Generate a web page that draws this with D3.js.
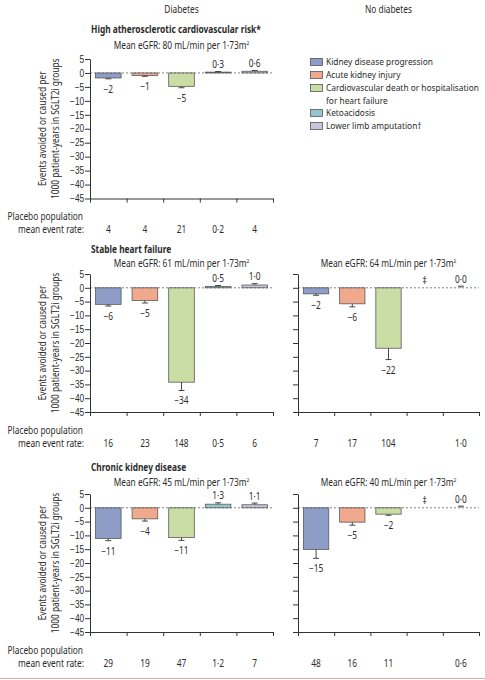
<!DOCTYPE html>
<html>
<head>
<meta charset="utf-8">
<script src="https://cdn.jsdelivr.net/npm/d3@7"></script>
<style>
  body { margin: 0; background: #fff; }
  svg { font-family: "Noto Sans", "Open Sans", sans-serif; }
  text { fill: #2b2b2b; }
</style>
</head>
<body>
<script>
// chart data
const groups = ['Diabetes', 'No diabetes'];
const outcomes = ['Kidney disease progression', 'Acute kidney injury',
  'Cardiovascular death or hospitalisation', 'Ketoacidosis', 'Lower limb amputation\u2020'];
const outcomeColours = ['#8e9cc8', '#f0a98c', '#c9dda5', '#93c6d1', '#c8c4dc'];
const yTicks = [5, 0, -5, -10, -15, -20, -25, -30, -35, -40, -45];

const populations = ['High atherosclerotic cardiovascular risk*', 'Stable heart failure', 'Chronic kidney disease'];
const meanEgfr = [['80'], ['61', '64'], ['45', '40']];

// bar value, end of the error bar, printed label, placebo rate
const ascvdDiabetesValues = [-1.8, -0.9, -4.8, 0.3, 0.6];
const ascvdDiabetesErrors = [-2.1, -1.2, -5.3, 0.5, 0.9];
const ascvdDiabetesLabels = ['\u22122', '\u22121', '\u22125', '0\u00b73', '0\u00b76'];
const ascvdDiabetesPlacebo = ['4', '4', '21', '0\u00b72', '4'];

const hfDiabetesValues = [-6.0, -4.6, -34.2, 0.5, 1.0];
const hfDiabetesErrors = [-6.6, -5.5, -37.2, 0.8, 1.5];
const hfDiabetesLabels = ['\u22126', '\u22125', '\u221234', '0\u00b75', '1\u00b70'];
const hfDiabetesPlacebo = ['16', '23', '148', '0\u00b75', '6'];

const hfNoDiabetesValues = [-2.2, -5.8, -21.9, null, 0.0];
const hfNoDiabetesErrors = [-2.7, -6.9, -26.0, null, 0.6];
const hfNoDiabetesLabels = ['\u22122', '\u22126', '\u221222', '\u2021', '0\u00b70'];
const hfNoDiabetesPlacebo = ['7', '17', '104', '', '1\u00b70'];

const ckdDiabetesValues = [-11.1, -4.0, -10.8, 1.3, 1.1];
const ckdDiabetesErrors = [-11.9, -4.8, -11.8, 1.8, 1.7];
const ckdDiabetesLabels = ['\u221211', '\u22124', '\u221211', '1\u00b73', '1\u00b71'];
const ckdDiabetesPlacebo = ['29', '19', '47', '1\u00b72', '7'];

const ckdNoDiabetesValues = [-15.1, -5.2, -2.3, null, 0.0];
const ckdNoDiabetesErrors = [-18.3, -6.3, -2.7, null, 0.6];
const ckdNoDiabetesLabels = ['\u221215', '\u22125', '\u22122', '\u2021', '0\u00b70'];
const ckdNoDiabetesPlacebo = ['48', '16', '11', '', '0\u00b76'];

// layout
const W = 485, H = 680;
const colX = [[90, 273], [298, 479]];
const rowTop = [59, 274, 494];
const rowBottom = [198.5, 412, 632];
const titleY = [33, 253, 471];
const egfrY = [49, 267, 485.5];

const panels = [
  { row: 0, col: 0, values: ascvdDiabetesValues, errors: ascvdDiabetesErrors, labels: ascvdDiabetesLabels, placebo: ascvdDiabetesPlacebo },
  { row: 1, col: 0, values: hfDiabetesValues, errors: hfDiabetesErrors, labels: hfDiabetesLabels, placebo: hfDiabetesPlacebo },
  { row: 1, col: 1, values: hfNoDiabetesValues, errors: hfNoDiabetesErrors, labels: hfNoDiabetesLabels, placebo: hfNoDiabetesPlacebo },
  { row: 2, col: 0, values: ckdDiabetesValues, errors: ckdDiabetesErrors, labels: ckdDiabetesLabels, placebo: ckdDiabetesPlacebo },
  { row: 2, col: 1, values: ckdNoDiabetesValues, errors: ckdNoDiabetesErrors, labels: ckdNoDiabetesLabels, placebo: ckdNoDiabetesPlacebo }
];

const svg = d3.select('body').append('svg')
  .attr('width', W)
  .attr('height', H);

// the figure uses a condensed face, so squeeze the installed sans to the
// same widths: "Kidney disease progression" ~107px, bold top title ~170px
function measure(str, weight) {
  const t = svg.append('text').attr('font-size', 10).attr('font-weight', weight).text(str);
  const w = t.node().getComputedTextLength();
  t.remove();
  return w;
}
const SX = 107 / measure(outcomes[0], 'normal');
const SXB = 170 / measure(populations[0], 'bold');

// text placed at (x, y), condensed horizontally
function txt(parent, x, y, str, o = {}) {
  const size = o.size || 10;
  const sx = (o.weight === 'bold' ? SXB : SX) * 10 / size;
  return parent.append('text')
    .attr('transform', `translate(${x},${y})${o.rotate ? ` rotate(${o.rotate})` : ''} scale(${sx},1)`)
    .attr('text-anchor', o.anchor || 'start')
    .attr('font-size', size)
    .attr('font-weight', o.weight || null)
    .text(str);
}

// column headers
groups.forEach((d, i) => {
  txt(svg, (colX[i][0] + colX[i][1]) / 2, 13, d, { anchor: 'middle' });
});

// population titles
populations.forEach((d, i) => {
  txt(svg, 91, titleY[i], d, { weight: 'bold' });
});

panels.forEach(drawPanel);

function drawPanel(p) {
  const [x0, x1] = colX[p.col];
  const top = rowTop[p.row], bottom = rowBottom[p.row];
  const g = svg.append('g');

  const y = d3.scaleLinear().domain([-45, 5]).range([bottom, top]);
  const x = d3.scaleBand().domain(d3.range(outcomes.length))
    .range([x0, x1]).paddingInner(0.3).paddingOuter(0.15);
  const xEdges = d3.scaleLinear().domain([0, outcomes.length]).range([x0, x1]);
  const cx = i => x(i) + x.bandwidth() / 2;

  // mean eGFR subtitle
  const sub = txt(g, (x0 + x1) / 2, egfrY[p.row],
    'Mean eGFR: ' + meanEgfr[p.row][p.col] + ' mL/min per 1\u00b773m', { anchor: 'middle' });
  sub.append('tspan').attr('font-size', 6).attr('dy', -4).text('2');

  // bars
  const data = p.values.map((v, i) => ({ i, v, e: p.errors[i], label: p.labels[i] }));
  const withBars = data.filter(d => d.v !== null);

  g.selectAll('.bar').data(withBars).enter().append('rect')
    .attr('class', 'bar')
    .attr('x', d => x(d.i))
    .attr('width', x.bandwidth())
    .attr('y', d => y(Math.max(0, d.v)))
    .attr('height', d => Math.abs(y(d.v) - y(0)))
    .attr('fill', d => outcomeColours[d.i])
    .attr('stroke', '#5a5a5a')
    .attr('stroke-width', 0.8);

  // error bars
  g.selectAll('.err').data(withBars).enter().append('line')
    .attr('x1', d => cx(d.i)).attr('x2', d => cx(d.i))
    .attr('y1', d => y(d.v)).attr('y2', d => y(d.e))
    .attr('stroke', '#333').attr('stroke-width', 0.9);
  g.selectAll('.cap').data(withBars).enter().append('line')
    .attr('x1', d => cx(d.i) - 3).attr('x2', d => cx(d.i) + 3)
    .attr('y1', d => y(d.e)).attr('y2', d => y(d.e))
    .attr('stroke', '#333').attr('stroke-width', 0.9);

  // zero line
  g.append('line')
    .attr('x1', x0).attr('x2', x1)
    .attr('y1', y(0)).attr('y2', y(0))
    .attr('stroke', '#666').attr('stroke-width', 0.8)
    .attr('stroke-dasharray', '2,2');

  // value labels
  data.forEach(d => {
    const e = d.e === null ? 0 : d.e;
    txt(g, cx(d.i), e < 0 ? y(e) + 14 : y(e) - 3.5, d.label, { anchor: 'middle' });
  });

  // axes
  const yAxis = d3.axisLeft(y).tickValues(yTicks).tickSize(5).tickSizeOuter(0).tickPadding(2);
  if (p.col === 1) yAxis.tickFormat('');
  const ya = g.append('g').attr('transform', `translate(${x0},0)`).call(yAxis);
  const xa = g.append('g').attr('transform', `translate(0,${bottom})`)
    .call(d3.axisBottom(xEdges).tickValues(d3.range(outcomes.length + 1))
      .tickFormat('').tickSize(4).tickSizeOuter(0));
  [ya, xa].forEach(a => {
    a.select('.domain').attr('stroke', '#333').attr('stroke-width', 1);
    a.selectAll('.tick line').attr('stroke', '#333');
    a.selectAll('.tick text')
      .attr('font-size', 10).attr('fill', '#2b2b2b')
      .attr('transform', `scale(${SX},1)`)
      .style('font-family', 'inherit');
  });

  if (p.col === 0) {
    // y axis title
    const my = (top + bottom) / 2;
    txt(g, 45.5, my, 'Events avoided or caused per', { anchor: 'middle', rotate: -90 });
    txt(g, 58.5, my, '1000 patient-years in SGLT2i groups', { anchor: 'middle', rotate: -90 });

    txt(g, 83, bottom + 21.5, 'Placebo population', { anchor: 'end' });
    txt(g, 84, bottom + 34.5, 'mean event rate:', { anchor: 'end' });
  }

  // placebo rates
  p.placebo.forEach((d, i) => {
    txt(g, cx(i), bottom + 34.5, d, { anchor: 'middle' });
  });
}

// legend
const legendRows = [
  { i: 0, y: 62 }, { i: 1, y: 75 }, { i: 2, y: 88 }, { i: 3, y: 113 }, { i: 4, y: 126 }
];
const legend = svg.append('g');
legend.selectAll('rect').data(legendRows).enter().append('rect')
  .attr('x', 310.5).attr('y', d => d.y - 3.5)
  .attr('width', 12).attr('height', 7)
  .attr('fill', d => outcomeColours[d.i])
  .attr('stroke', '#555').attr('stroke-width', 0.8);
legendRows.forEach(d => txt(legend, 326, d.y + 3.3, outcomes[d.i], { size: 9.3 }));
txt(legend, 326, 100.5 + 3.3, 'for heart failure', { size: 9.3 });

// frame edge at the foot of the figure
svg.append('line')
  .attr('x1', 0).attr('x2', W)
  .attr('y1', 678.5).attr('y2', 678.5)
  .attr('stroke', '#e4a8a8').attr('stroke-width', 1);
</script>
</body>
</html>
